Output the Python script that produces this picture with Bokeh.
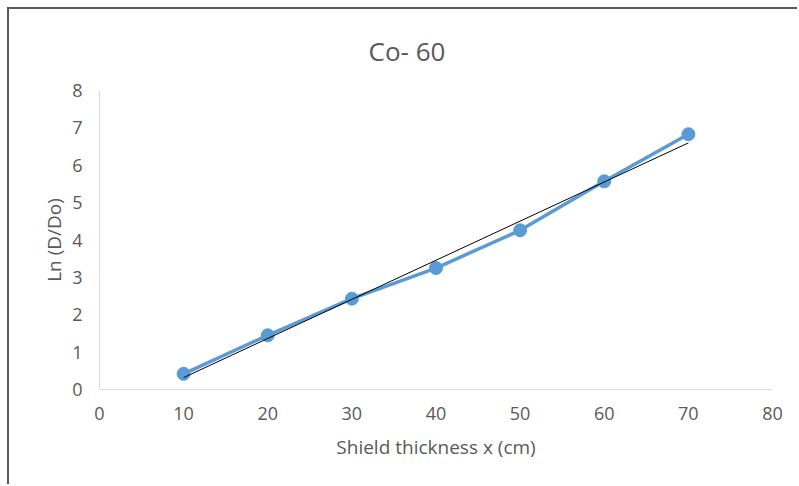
import numpy as np
from bokeh.plotting import figure
from bokeh.models import Range1d, FixedTicker
from bokeh.embed import file_html
from bokeh.resources import INLINE

# Data
thickness_cm = [10, 20, 30, 40, 50, 60, 70]
ln_ratio = [0.42, 1.45, 2.43, 3.25, 4.26, 5.57, 6.83]
x_ticks = [0, 10, 20, 30, 40, 50, 60, 70, 80]
y_ticks = [0, 1, 2, 3, 4, 5, 6, 7, 8]
chart_title = "Co- 60"

# Linear trendline (least squares fit of the series)
slope, intercept = np.polyfit(thickness_cm, ln_ratio, 1)
trend_x = [thickness_cm[0], thickness_cm[-1]]
trend_y = [slope * v + intercept for v in trend_x]

FONT = "Open Sans"
GREY = "#595959"

p = figure(width=790, height=477, output_backend="svg", toolbar_location=None,
           x_range=Range1d(0, 80), y_range=Range1d(0, 8),
           min_border_left=90, min_border_right=27, min_border_top=81, min_border_bottom=97)

p.title.text = chart_title
p.title.align = "left"
p.title.text_font = FONT
p.title.text_font_style = "normal"
p.title.text_font_size = "26px"
p.title.text_color = GREY
p.title.offset = 269
p.title.standoff = 43

p.outline_line_color = None
p.xgrid.grid_line_color = None
p.ygrid.grid_line_color = None
p.styles = {"margin-left": "7px", "margin-top": "7px",
            "border-left": "2px solid #5a5a5a", "border-top": "2px solid #5a5a5a"}

for ax in (p.xaxis, p.yaxis):
    ax.axis_line_color = "#d9d9d9"
    ax.axis_line_width = 1
    ax.major_tick_line_color = None
    ax.minor_tick_line_color = None
    ax.major_label_text_font = FONT
    ax.major_label_text_font_size = "18px"
    ax.major_label_text_color = GREY
    ax.axis_label_text_font = FONT
    ax.axis_label_text_font_size = "19px"
    ax.axis_label_text_font_style = "normal"
    ax.axis_label_text_color = GREY

p.xaxis.ticker = FixedTicker(ticks=x_ticks)
p.yaxis.ticker = FixedTicker(ticks=y_ticks)
p.xaxis.axis_label = "Shield thickness x (cm)"
p.yaxis.axis_label = "Ln (D/Do)"
p.xaxis.major_label_standoff = 11
p.yaxis.major_label_standoff = 11
p.xaxis.axis_label_standoff = 11
p.yaxis.axis_label_standoff = 2

p.line(thickness_cm, ln_ratio, line_color="#5b9bd5", line_width=3.5)
p.scatter(thickness_cm, ln_ratio, size=13, fill_color="#5b9bd5", line_color="#5b9bd5")
p.line(trend_x, trend_y, line_color="#000000", line_width=1)

open("out.html", "w").write(file_html(p, INLINE))
